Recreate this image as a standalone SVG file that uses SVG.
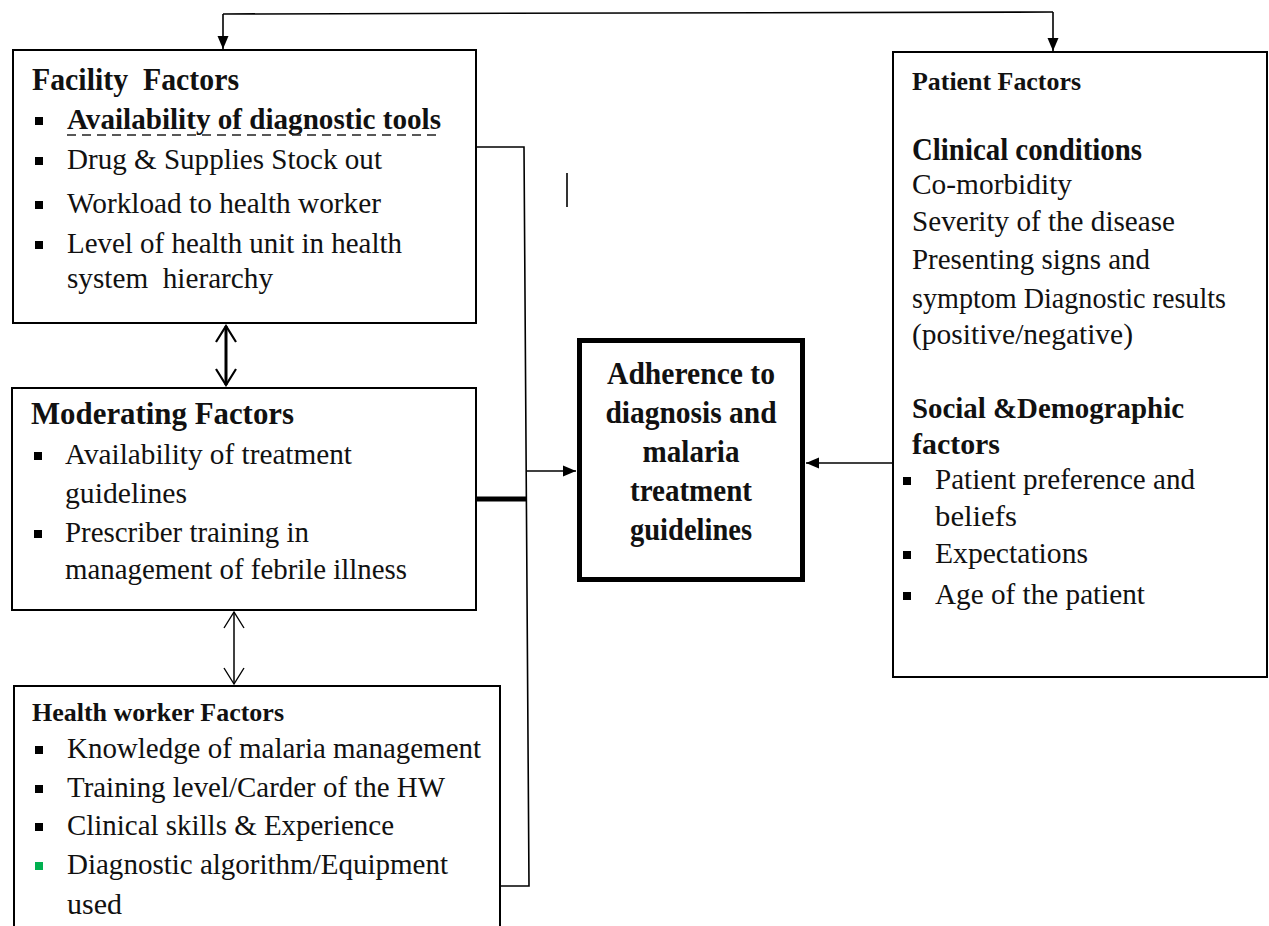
<svg xmlns="http://www.w3.org/2000/svg" width="1269" height="926" viewBox="0 0 1269 926">
<style>
  .box{fill:#fff;stroke:#000;stroke-width:2}
  .t{font-family:"Liberation Serif","Times New Roman",serif;fill:#111}
  .b{font-weight:bold}
  .ln{fill:none;stroke:#000;stroke-width:1.6}
  .bl{fill:#000}
</style>
<defs>
  <marker id="fa" markerUnits="userSpaceOnUse" markerWidth="14" markerHeight="14" viewBox="0 0 14 14" refX="13" refY="7" orient="auto">
    <path d="M0,1.5 L13,7 L0,12.5 Z" fill="#000"/>
  </marker>
  <marker id="oa" markerUnits="userSpaceOnUse" markerWidth="20" markerHeight="24" viewBox="0 0 20 24" refX="18" refY="12" orient="auto-start-reverse">
    <path d="M2,2 L18,12 L2,22" fill="none" stroke="#000" stroke-width="2.2"/>
  </marker>
  <marker id="ot" markerUnits="userSpaceOnUse" markerWidth="20" markerHeight="24" viewBox="0 0 20 24" refX="18" refY="12" orient="auto-start-reverse">
    <path d="M2,2 L18,12 L2,22" fill="none" stroke="#000" stroke-width="1.4"/>
  </marker>
</defs>

<g id="connectors">
  <path class="ln" d="M223,14 L1053,12"/>
  <path class="ln" d="M223,14 V49" marker-end="url(#fa)"/>
  <path class="ln" d="M1053,12 V51" marker-end="url(#fa)"/>
  <path d="M226,326 V385" fill="none" stroke="#000" stroke-width="3" marker-start="url(#oa)" marker-end="url(#oa)"/>
  <path d="M234,612 V684" fill="none" stroke="#000" stroke-width="1.5" marker-start="url(#ot)" marker-end="url(#ot)"/>
  <path class="ln" d="M476,147 H524 L529,886 H500"/>
  <path class="ln" d="M527,471 H576" marker-end="url(#fa)"/>
  <path d="M476,499 H527" stroke="#000" stroke-width="5" fill="none"/>
  <path class="ln" d="M567,173 V207"/>
  <path class="ln" d="M893,463 H806" marker-end="url(#fa)"/>
</g>

<g id="facility" font-size="30">
  <rect class="box" x="13" y="50" width="463" height="273"/>
  <text class="t b" x="32" y="90" font-size="32" textLength="207" lengthAdjust="spacingAndGlyphs" xml:space="preserve">Facility  Factors</text>
  <rect class="bl" x="35" y="117" width="8" height="8"/>
  <text class="t b" x="67" y="129" textLength="374" lengthAdjust="spacingAndGlyphs">Availability of diagnostic tools</text>
  <path d="M67,135 H441" stroke="#222" stroke-width="1.5" stroke-dasharray="9,6" fill="none"/>
  <rect class="bl" x="35" y="157" width="8" height="8"/>
  <text class="t" x="67" y="169" textLength="315" lengthAdjust="spacingAndGlyphs">Drug &amp; Supplies Stock out</text>
  <rect class="bl" x="35" y="201" width="8" height="8"/>
  <text class="t" x="67" y="213" textLength="314" lengthAdjust="spacingAndGlyphs">Workload to health worker</text>
  <rect class="bl" x="35" y="241" width="8" height="8"/>
  <text class="t" x="67" y="253" textLength="335" lengthAdjust="spacingAndGlyphs">Level of health unit in health</text>
  <text class="t" x="67" y="288" textLength="206" lengthAdjust="spacingAndGlyphs" xml:space="preserve">system  hierarchy</text>
</g>

<g id="moderating" font-size="30">
  <rect class="box" x="12" y="388" width="464" height="222"/>
  <text class="t b" x="31" y="424" font-size="32" textLength="263" lengthAdjust="spacingAndGlyphs">Moderating Factors</text>
  <rect class="bl" x="34" y="452" width="8" height="8"/>
  <text class="t" x="65" y="464" textLength="287" lengthAdjust="spacingAndGlyphs">Availability of treatment</text>
  <text class="t" x="65" y="503" textLength="122" lengthAdjust="spacingAndGlyphs">guidelines</text>
  <rect class="bl" x="34" y="530" width="8" height="8"/>
  <text class="t" x="65" y="542" textLength="244" lengthAdjust="spacingAndGlyphs">Prescriber training in</text>
  <text class="t" x="65" y="579" textLength="342" lengthAdjust="spacingAndGlyphs">management of febrile illness</text>
</g>

<g id="healthworker" font-size="30">
  <rect class="box" x="14" y="686" width="486" height="260"/>
  <text class="t b" x="32" y="721" font-size="25" textLength="252" lengthAdjust="spacingAndGlyphs">Health worker Factors</text>
  <rect class="bl" x="35" y="746" width="8" height="8"/>
  <text class="t" x="67" y="758" textLength="414" lengthAdjust="spacingAndGlyphs">Knowledge of malaria management</text>
  <rect class="bl" x="35" y="785" width="8" height="8"/>
  <text class="t" x="67" y="797" textLength="378" lengthAdjust="spacingAndGlyphs">Training level/Carder of the HW</text>
  <rect class="bl" x="35" y="823" width="8" height="8"/>
  <text class="t" x="67" y="835" textLength="327" lengthAdjust="spacingAndGlyphs">Clinical skills &amp; Experience</text>
  <rect x="35" y="862" width="8" height="8" fill="#00B050"/>
  <text class="t" x="67" y="874" textLength="381" lengthAdjust="spacingAndGlyphs">Diagnostic algorithm/Equipment</text>
  <text class="t" x="67" y="914" textLength="55" lengthAdjust="spacingAndGlyphs">used</text>
</g>

<g id="adherence" font-size="32">
  <rect x="579.5" y="340.5" width="223" height="239" fill="#fff" stroke="#000" stroke-width="5"/>
  <g text-anchor="middle">
    <text class="t b" x="691" y="384" textLength="168" lengthAdjust="spacingAndGlyphs">Adherence to</text>
    <text class="t b" x="691" y="423" textLength="171" lengthAdjust="spacingAndGlyphs">diagnosis and</text>
    <text class="t b" x="691" y="462" textLength="97" lengthAdjust="spacingAndGlyphs">malaria</text>
    <text class="t b" x="691" y="501" textLength="122" lengthAdjust="spacingAndGlyphs">treatment</text>
    <text class="t b" x="691" y="540" textLength="122" lengthAdjust="spacingAndGlyphs">guidelines</text>
  </g>
</g>

<g id="patient" font-size="29">
  <rect class="box" x="893" y="52" width="374" height="625"/>
  <text class="t b" x="912" y="90" font-size="26" textLength="169" lengthAdjust="spacingAndGlyphs">Patient Factors</text>
  <text class="t b" x="912" y="160" font-size="31" textLength="230" lengthAdjust="spacingAndGlyphs">Clinical conditions</text>
  <text class="t" x="912" y="194" textLength="160" lengthAdjust="spacingAndGlyphs">Co-morbidity</text>
  <text class="t" x="912" y="231" textLength="263" lengthAdjust="spacingAndGlyphs">Severity of the disease</text>
  <text class="t" x="912" y="269" textLength="238" lengthAdjust="spacingAndGlyphs">Presenting signs and</text>
  <text class="t" x="912" y="308" textLength="314" lengthAdjust="spacingAndGlyphs">symptom Diagnostic results</text>
  <text class="t" x="912" y="344" textLength="221" lengthAdjust="spacingAndGlyphs">(positive/negative)</text>
  <text class="t b" x="912" y="418" font-size="30" textLength="272" lengthAdjust="spacingAndGlyphs">Social &amp;Demographic</text>
  <text class="t b" x="912" y="454" font-size="30" textLength="88" lengthAdjust="spacingAndGlyphs">factors</text>
  <rect class="bl" x="903" y="477" width="8" height="8"/>
  <text class="t" x="935" y="489" textLength="260" lengthAdjust="spacingAndGlyphs">Patient preference and</text>
  <text class="t" x="935" y="526" textLength="82" lengthAdjust="spacingAndGlyphs">beliefs</text>
  <rect class="bl" x="903" y="551" width="8" height="8"/>
  <text class="t" x="935" y="563" textLength="153" lengthAdjust="spacingAndGlyphs">Expectations</text>
  <rect class="bl" x="903" y="592" width="8" height="8"/>
  <text class="t" x="935" y="604" textLength="210" lengthAdjust="spacingAndGlyphs">Age of the patient</text>
</g>
</svg>
